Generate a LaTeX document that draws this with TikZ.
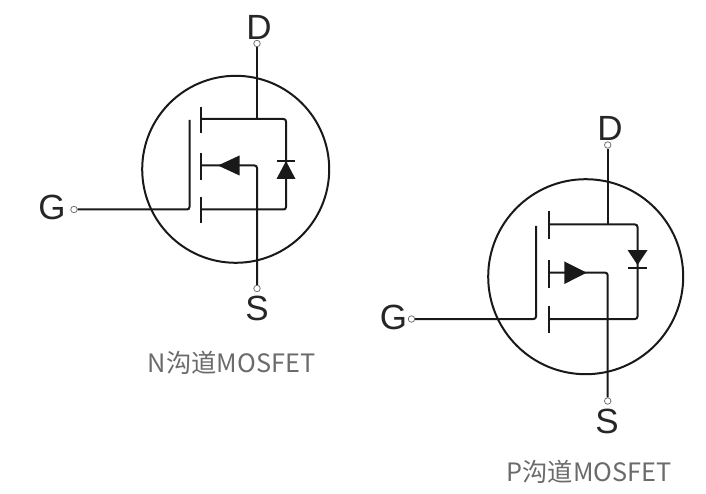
\documentclass[tikz,border=0pt]{standalone}
\usepackage{fontspec}
\setmainfont{Liberation Sans}
\newfontfamily\cjkfont{Noto Sans CJK SC}
\tikzset{
    wire/.style={line width=2pt,black!90,rounded corners=2.5pt},
    plate/.style={line width=2pt,black!90},
    terminal/.style={circle,draw=black!55,fill=white,line width=0.8pt,inner sep=0pt,minimum size=6.5pt},
    pinlabel/.style={inner sep=0pt,font=\fontsize{35}{35}\selectfont,black!85},
    caption/.style={inner sep=0pt,font=\cjkfont\fontsize{25.3}{27}\selectfont,black!58}
}
\begin{document}
\begin{tikzpicture}[x=1pt,y=-1pt]

\useasboundingbox (0,0) rectangle (706,494);

% N channel
\draw[plate] (235.7,169.3) circle (93.5);

\node[terminal] (nD) at (257,43.5) {};
\node[terminal] (nG) at (74,209.5) {};
\node[terminal] (nS) at (257,288.5) {};
\node[pinlabel] at (259,27) {D};
\node[pinlabel] at (52,207) {G};
\node[pinlabel] at (257,308) {S};

\coordinate (nDrain) at (257,119);
\coordinate (nDrainL) at (202,119);
\coordinate (nSourceL) at (202,209.5);
\coordinate (nBody) at (202,165.5);

\draw[plate] (201,107.5) -- (201,133.5);
\draw[plate] (201,153.5) -- (201,180);
\draw[plate] (201,197) -- (201,223);

\draw[wire] (nG) -- (189.5,209.5) -- (189.5,120);
\draw[plate] (nD) -- (nDrain);
\draw[wire] (nDrainL) -- (286,119) -- (286,209.5) -- (nSourceL);
\draw[wire] (nBody) -- (257,165.5) -- (nS);

% arrow and diode
\fill[black!90] (218,165.5) -- (239.5,155.5) -- (239.5,175.5) -- cycle;
\fill[black!90] (286,161) -- (295.5,179) -- (276.5,179) -- cycle;
\draw[plate] (277,161) -- (295,161);

\node[caption] at (231.5,362.5) {N{\cjkfont 沟道}MOSFET};

% P channel
\draw[plate] (585.7,276.7) circle (97.5);

\node[terminal] (pD) at (607.7,145) {};
\node[terminal] (pG) at (411.5,319) {};
\node[terminal] (pS) at (607.7,401) {};
\node[pinlabel] at (610,128) {D};
\node[pinlabel] at (393.5,317) {G};
\node[pinlabel] at (607,421) {S};

\coordinate (pDrain) at (607.7,224.5);
\coordinate (pDrainL) at (550,224.5);
\coordinate (pSourceL) at (550,319);
\coordinate (pBody) at (550,272.7);

\draw[plate] (549,211.5) -- (549,239);
\draw[plate] (549,260) -- (549,287.5);
\draw[plate] (549,305.5) -- (549,333);

\draw[wire] (pG) -- (536,319) -- (536,226);
\draw[plate] (pD) -- (pDrain);
\draw[wire] (pDrainL) -- (637.5,224.5) -- (637.5,319) -- (pSourceL);
\draw[wire] (pBody) -- (607.7,272.7) -- (pS);

% arrow and diode
\fill[black!90] (586.7,272.7) -- (564.3,261.4) -- (564.3,284) -- cycle;
\fill[black!90] (637.5,265) -- (627.5,250) -- (647.5,250) -- cycle;
\draw[plate] (628,268) -- (647,268);

\node[caption] at (589,471.5) {P{\cjkfont 沟道}MOSFET};

\end{tikzpicture}
\end{document}
